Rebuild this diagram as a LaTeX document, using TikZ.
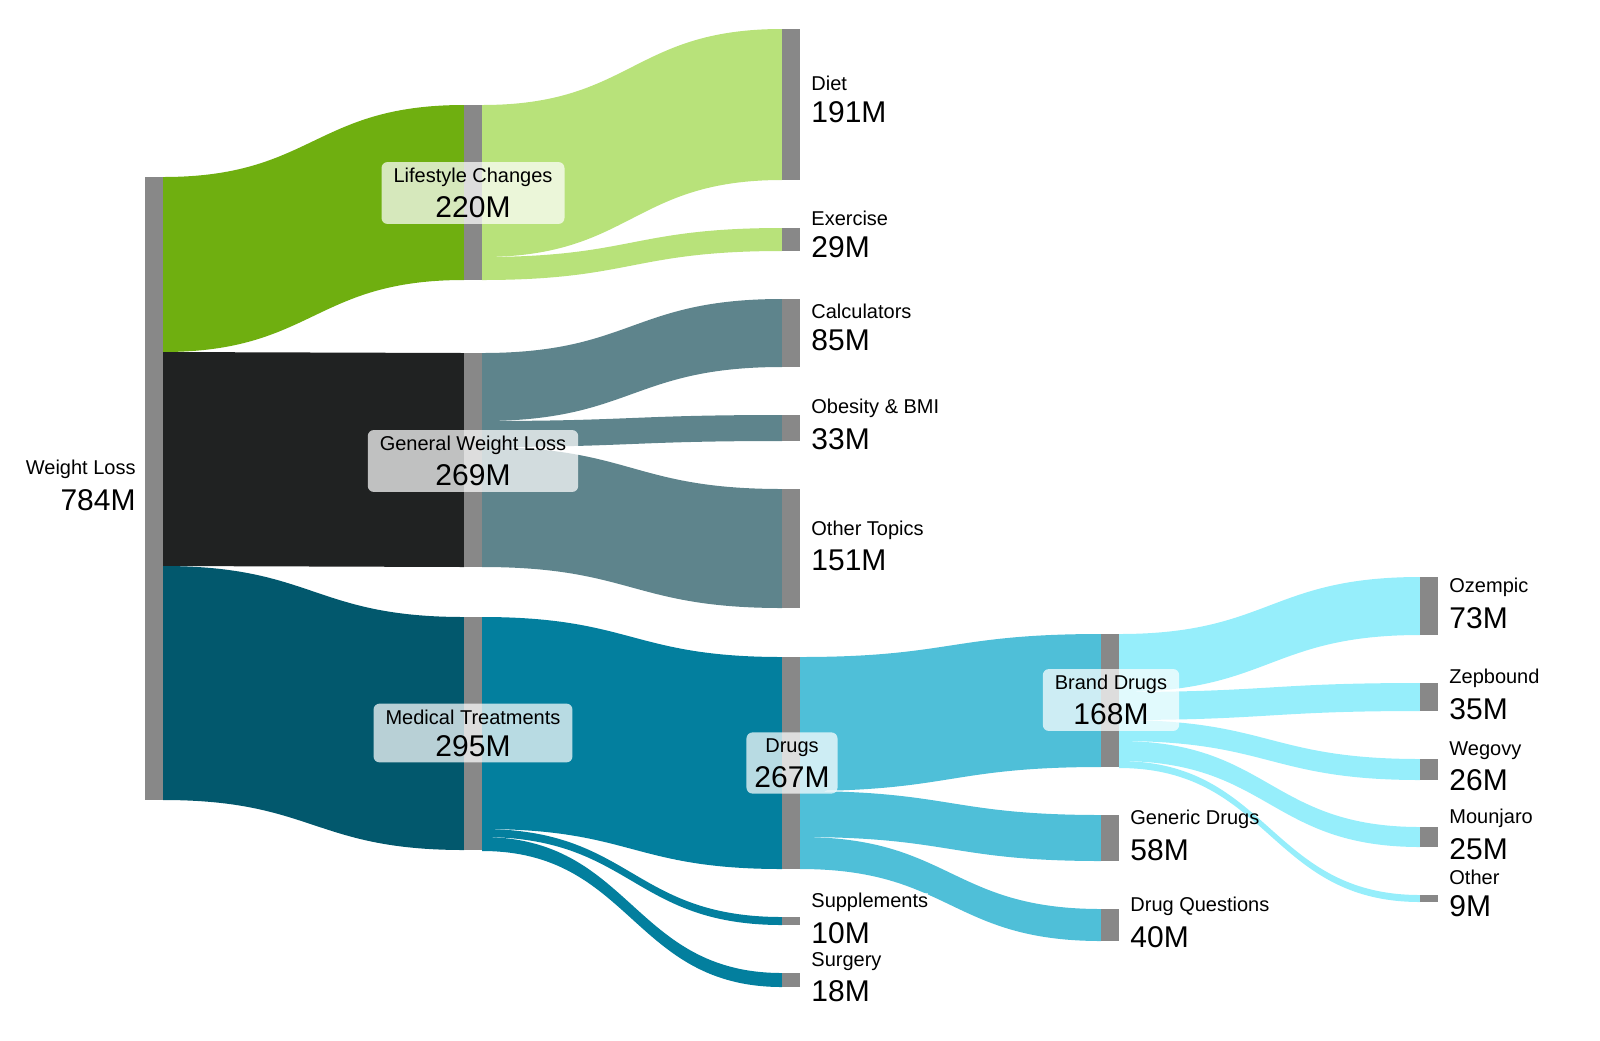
\documentclass[tikz,border=0pt]{standalone}
\usepackage{fontspec}
\setmainfont{Liberation Sans}
\newcommand\flw[7]{\fill[#7] (#1,#2) .. controls ({(#1+#4)/2},#2) and ({(#1+#4)/2},#5) .. (#4,#5) -- (#4,#6) .. controls ({(#1+#4)/2},#6) and ({(#1+#4)/2},#3) .. (#1,#3) -- cycle;}
\newcommand\sm{\fontsize{10}{12}\selectfont}
\newcommand\bg{\fontsize{15}{18}\selectfont}
\newcommand\lb[2]{\sm #1\\[4pt]\bg #2}
\definecolor{gA}{HTML}{6FAF10}\definecolor{gB}{HTML}{B8E27A}
\definecolor{kA}{HTML}{202222}\definecolor{kB}{HTML}{5E848C}
\definecolor{mA}{HTML}{02586D}\definecolor{mB}{HTML}{037F9E}
\definecolor{dB}{HTML}{4FBFD8}\definecolor{bB}{HTML}{96EEFB}
\definecolor{barc}{HTML}{888888}
\begin{document}
\begin{tikzpicture}[x=0.5pt,y=-0.5pt,
 bar/.style={fill=barc},
 lbl/.style={inner sep=0pt,align=left,anchor=north west},
 mid/.style={fill=white,fill opacity=0.72,text opacity=1,rounded corners=3pt,align=center,inner xsep=6pt,inner ysep=3pt}]
\useasboundingbox (0,0) rectangle (1600,1040);
% flows level 1
\flw{163}{177}{352}{464}{105}{280}{gA}
\flw{163}{352}{566}{464}{353}{567}{kA}
\flw{163}{566}{800}{464}{617}{850}{mA}
% lifestyle
\flw{482}{105}{257}{782}{29}{180}{gB}
\flw{482}{257}{280}{782}{228}{251}{gB}
% general
\flw{482}{353}{421}{782}{299}{367}{kB}
\flw{482}{421}{447}{782}{415}{441}{kB}
\flw{482}{447}{567}{782}{489}{608}{kB}
% medical
\flw{482}{617}{829}{782}{657}{869}{mB}
\flw{482}{829}{837}{782}{917}{925}{mB}
\flw{482}{837}{851}{782}{973}{987}{mB}
% drugs
\flw{800}{657}{791}{1101}{634}{767}{dB}
\flw{800}{791}{837}{1101}{815}{861}{dB}
\flw{800}{837}{869}{1101}{909}{941}{dB}
% brand
\flw{1119}{634}{692}{1420}{577}{635}{bB}
\flw{1119}{692}{720}{1420}{683}{711}{bB}
\flw{1119}{720}{741}{1420}{759}{780}{bB}
\flw{1119}{741}{761}{1420}{827}{847}{bB}
\flw{1119}{761}{768}{1420}{895}{902}{bB}
% bars
\fill[bar] (145,177) rectangle (163,800);
\fill[bar] (464,105) rectangle (482,280);
\fill[bar] (464,353) rectangle (482,567);
\fill[bar] (464,617) rectangle (482,850);
\fill[bar] (782,29) rectangle (800,180);
\fill[bar] (782,228) rectangle (800,251);
\fill[bar] (782,299) rectangle (800,367);
\fill[bar] (782,415) rectangle (800,441);
\fill[bar] (782,489) rectangle (800,608);
\fill[bar] (782,657) rectangle (800,869);
\fill[bar] (782,917) rectangle (800,925);
\fill[bar] (782,973) rectangle (800,987);
\fill[bar] (1101,634) rectangle (1119,767);
\fill[bar] (1101,815) rectangle (1119,861);
\fill[bar] (1101,909) rectangle (1119,941);
\fill[bar] (1420,577) rectangle (1438,635);
\fill[bar] (1420,683) rectangle (1438,711);
\fill[bar] (1420,759) rectangle (1438,780);
\fill[bar] (1420,827) rectangle (1438,847);
\fill[bar] (1420,895) rectangle (1438,902);
% labels
\node[inner sep=0pt,align=right,anchor=north east] (lwl) at (136,460) {\lb{Weight Loss}{784M}};
\node[mid] (llc) at (473,193) {\lb{Lifestyle Changes}{220M}};
\node[mid] (lgw) at (473,461) {\lb{General Weight Loss}{269M}};
\node[mid] (lmt) at (473,733) {\lb{Medical Treatments}{295M}};
\node[mid,inner xsep=4pt] (ldr) at (792,763) {\lb{Drugs}{267M}};
\node[mid] (lbd) at (1111,700) {\lb{Brand Drugs}{168M}};
\node[lbl] (l1) at (811,76) {\lb{Diet}{191M}};
\node[lbl] (l2) at (811,211) {\lb{Exercise}{29M}};
\node[lbl] (l3) at (811,304) {\lb{Calculators}{85M}};
\node[lbl] (l4) at (811,399) {\lb{Obesity \& BMI}{33M}};
\node[lbl] (l5) at (811,521) {\lb{Other Topics}{151M}};
\node[lbl,fill=white,fill opacity=0.7,text opacity=1] (l6) at (811,893) {\lb{Supplements}{10M}};
\node[lbl] (l7) at (811,952) {\lb{Surgery}{18M}};
\node[lbl] (l8) at (1130,810) {\lb{Generic Drugs}{58M}};
\node[lbl] (l9) at (1130,897) {\lb{Drug Questions}{40M}};
\node[lbl] (l10) at (1449,578) {\lb{Ozempic}{73M}};
\node[lbl] (l11) at (1449,669) {\lb{Zepbound}{35M}};
\node[lbl] (l12) at (1449,741) {\lb{Wegovy}{26M}};
\node[lbl] (l13) at (1449,809) {\lb{Mounjaro}{25M}};
\node[lbl] (l14) at (1449,870) {\lb{Other}{9M}};
\end{tikzpicture}
\end{document}
